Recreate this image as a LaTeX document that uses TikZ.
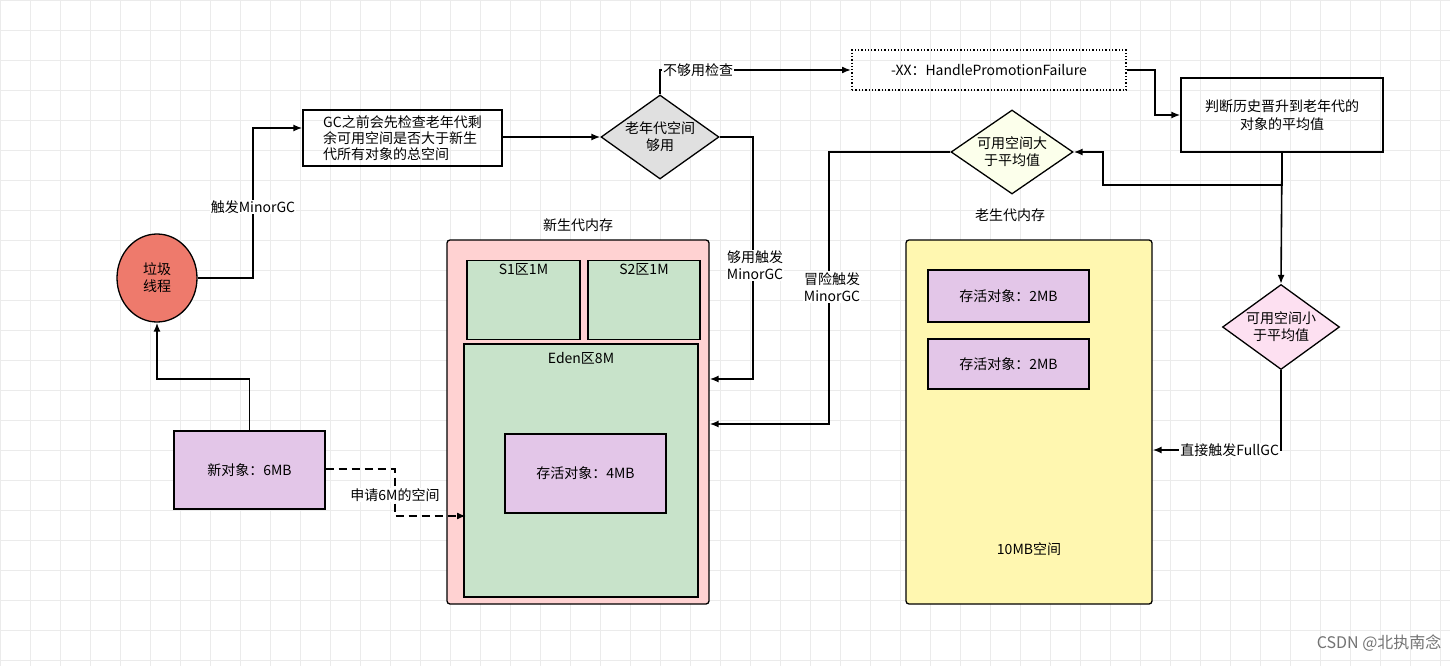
\documentclass[tikz,border=0pt]{standalone}
\usepackage{fontspec}
\setmainfont{Noto Sans CJK SC}
\usepackage{xcolor}
\usetikzlibrary{positioning,calc,fit,shapes.geometric}
\usetikzlibrary{arrows.meta}
\definecolor{youngfill}{HTML}{FFD2D2}
\definecolor{oldfill}{HTML}{FFF7B0}
\definecolor{edenfill}{HTML}{C8E3CA}
\definecolor{objfill}{HTML}{E3C6E8}
\definecolor{gcred}{HTML}{EE7A6C}
\tikzset{
  box/.style={rectangle,draw,line width=1.3pt,align=center,font=\fontsize{14}{18}\selectfont},
  dec/.style={diamond,draw,line width=1.3pt,align=center,aspect=1.4,inner sep=0pt,font=\fontsize{14}{17}\selectfont},
  flow/.style={draw,line width=1.6pt,-{Latex[length=9pt,width=7pt]}},
  lbl/.style={fill=white,inner sep=1pt,align=center,font=\fontsize{14}{17}\selectfont}
}
\begin{document}
\begin{tikzpicture}[x=1pt,y=-1pt]
\useasboundingbox (0,0) rectangle (1450,666);
\fill[white] (0,0) rectangle (1450,666);
\foreach \gx in {0,30,...,1440} \draw[black!8,line width=0.6pt] (\gx,0) -- (\gx,666);
\foreach \gy in {0,30,...,660} \draw[black!8,line width=0.6pt] (0,\gy) -- (1450,\gy);
% memory areas
\node[box,fill=youngfill,rounded corners=3pt,minimum width=262,minimum height=364] (young) at (578,422) {};
\node[box,fill=edenfill,minimum width=113,minimum height=79,anchor=north] (s1) at (523.5,260) {};
\node[anchor=north,font=\fontsize{14}{17}\selectfont] (s1t) at (s1.north) {S1区1M};
\node[box,fill=edenfill,minimum width=112,minimum height=79,anchor=north] (s2) at (644,260) {};
\node[anchor=north,font=\fontsize{14}{17}\selectfont] (s2t) at (s2.north) {S2区1M};
\node[box,fill=edenfill,minimum width=234,minimum height=253] (eden) at (581,470.5) {};
\node[anchor=north,font=\fontsize{14}{17}\selectfont] (edent) at ($(eden.north)+(0,5)$) {Eden区8M};
\node[box,fill=objfill,minimum width=161,minimum height=79] (surv) at (585.5,473.5) {存活对象：4MB};
\node[font=\fontsize{14}{17}\selectfont,above=4pt of young] (youngt) {新生代内存};
\node[box,fill=oldfill,rounded corners=3pt,minimum width=246,minimum height=364] (old) at (1029,422) {};
\node[font=\fontsize{14}{17}\selectfont] (oldt) at (1010,215) {老生代内存};
\node[box,fill=objfill,minimum width=161,minimum height=52] (o1) at (1008.5,296) {存活对象：2MB};
\node[box,fill=objfill,minimum width=161,minimum height=50] (o2) at (1008.5,364) {存活对象：2MB};
\node[font=\fontsize{14}{17}\selectfont] (oldsz) at (1029,549) {10MB空间};
% flow nodes
\node[ellipse,draw,line width=1.3pt,fill=gcred,minimum width=80,minimum height=88,align=center,font=\fontsize{14}{17}\selectfont] (gc) at (157,278) {垃圾\\线程};
\node[box,fill=objfill,minimum width=151,minimum height=78] (newobj) at (249.5,470) {新对象：6MB};
\node[box,minimum width=199,minimum height=56,align=left,font=\fontsize{14}{16}\selectfont] (check) at (402.5,138) {GC之前会先检查老年代剩\\余可用空间是否大于新生\\代所有对象的总空间};
\node[dec,fill=black!12,minimum width=118,minimum height=84] (enough) at (660,137) {老年代空间\\够用};
\node[box,dotted,line width=2pt,minimum width=274,minimum height=40] (flag) at (989,70) {-XX：HandlePromotionFailure};
\node[box,minimum width=202,minimum height=74] (avg) at (1282,115) {判断历史晋升到老年代的\\对象的平均值};
\node[dec,fill=green!15!yellow!8,minimum width=122,minimum height=84] (big) at (1012,152) {可用空间大\\于平均值};
\node[dec,fill=magenta!12,minimum width=117,minimum height=85] (small) at (1281,327) {可用空间小\\于平均值};
% connectors
\draw[flow] (newobj.north) |- (157,379) -- (gc.south);
\draw[flow] (gc.east) -| (253,128) -- (check.west |- 0,128);
\node[lbl] (l1) at (253,207) {触发MinorGC};
\draw[flow] (check.east |- enough) -- (enough.west);
\draw[flow] (enough.north) |- (flag.west) node[lbl,pos=0.6] {不够用检查};
\draw[flow] (enough.east) -| (753,379) -- (young.east |- 0,379);
\node[lbl] (l2) at (755,265) {够用触发\\MinorGC};
\draw[flow] (flag.east) -| (1155,115) -- (avg.west);
\draw[flow] (avg.south) |- (1103,185) |- (big.east);
\draw[flow] (avg.south) -- (small.north);
\draw[flow] (big.west) -| (829,424) -- (young.east |- 0,424);
\node[lbl] (l3) at (832,287) {冒险触发\\MinorGC};
\draw[flow] (small.south) |- (old.east |- 0,450) node[lbl,pos=0.7] {直接触发FullGC};
\draw[flow,dash pattern=on 8pt off 5pt] (newobj.east |- 0,469) -| (395,516) -- (466,516);
\node[lbl] (l4) at (395,495) {申请6M的空间};
\node[black!55,font=\fontsize{16}{18}\selectfont,anchor=south east] (mark) at (1445,655) {CSDN @北执南念};
\end{tikzpicture}
\end{document}
